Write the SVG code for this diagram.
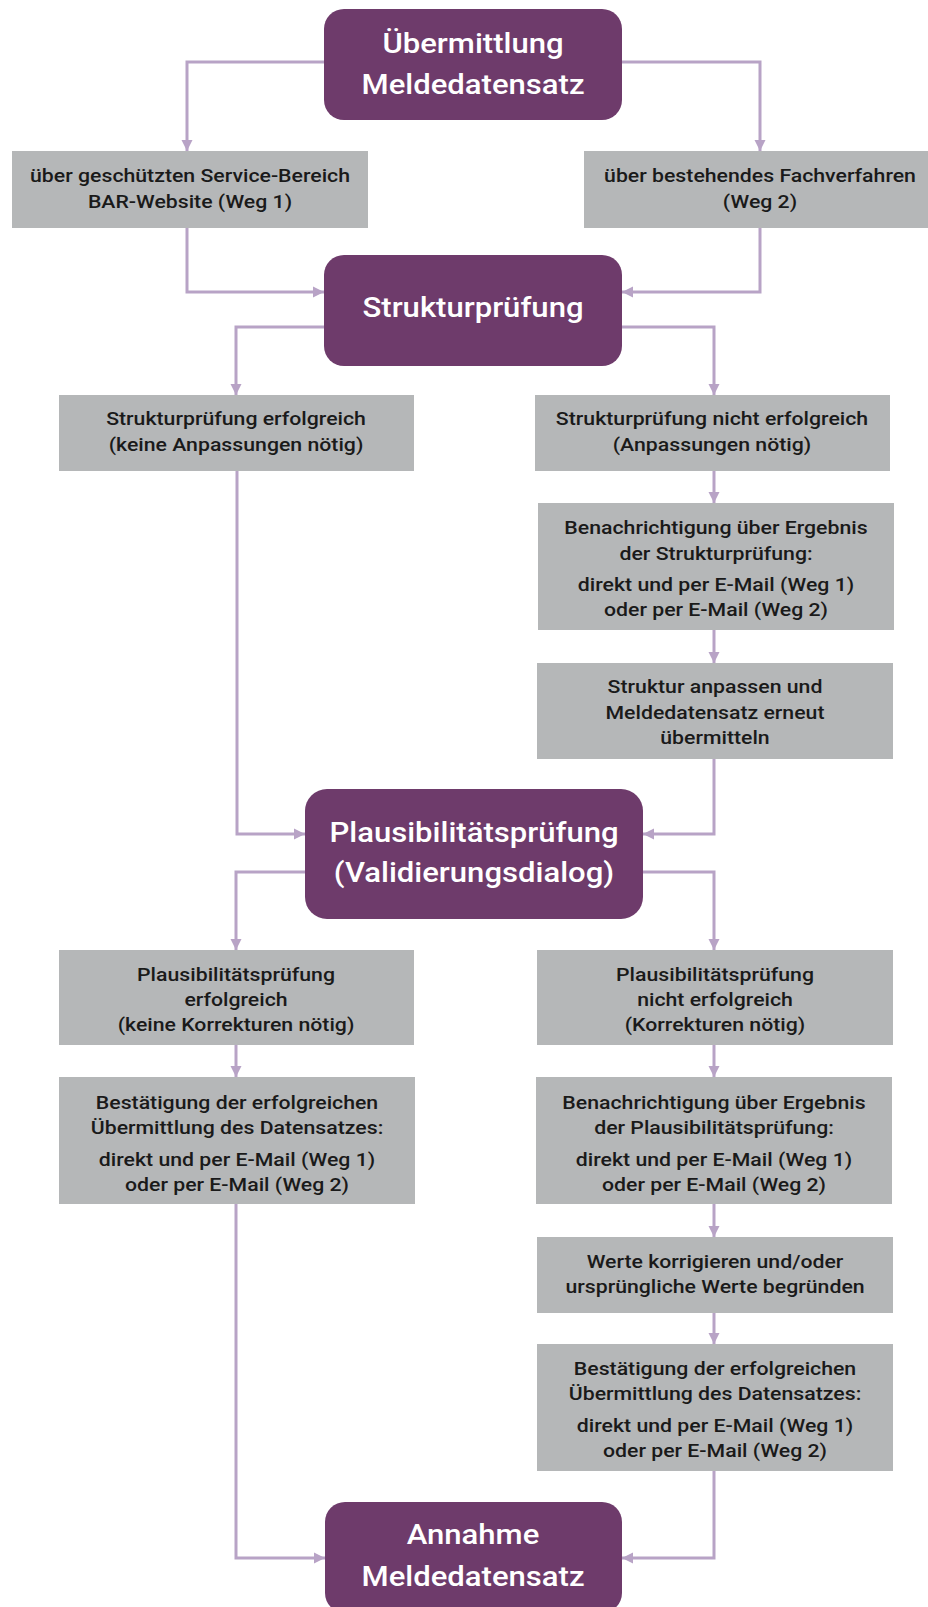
<svg xmlns="http://www.w3.org/2000/svg" width="928" height="1607" viewBox="0 0 928 1607">
<style>
.main{fill:#6e3b6b}
.box{fill:#b5b7b8}
.mt{font-family:Roboto,"Liberation Sans",sans-serif;font-weight:500;font-size:27.5px;fill:#ffffff;text-anchor:middle}
.bt{font-family:Roboto,"Liberation Sans",sans-serif;font-weight:500;font-size:18.5px;fill:#1a1a1a;text-anchor:middle}
.con{fill:none;stroke:#b8a3c6;stroke-width:3}
</style>
<defs>
<marker id="ah" markerUnits="userSpaceOnUse" markerWidth="12" markerHeight="12" refX="11" refY="6" orient="auto">
<path d="M0,0.5 L11,6 L0,11.5 z" fill="#b8a3c6"/>
</marker>
</defs>
<rect width="928" height="1607" fill="#ffffff"/>
<g id="connectors">
<path class="con" marker-end="url(#ah)" d="M324,62 H187 V151"/>
<path class="con" marker-end="url(#ah)" d="M622,62 H760 V151"/>
<path class="con" marker-end="url(#ah)" d="M187,228 V292 H324"/>
<path class="con" marker-end="url(#ah)" d="M760,228 V292 H622"/>
<path class="con" marker-end="url(#ah)" d="M324,327 H236 V395"/>
<path class="con" marker-end="url(#ah)" d="M622,327 H714 V395"/>
<path class="con" marker-end="url(#ah)" d="M714,471 V503"/>
<path class="con" marker-end="url(#ah)" d="M714,630 V663"/>
<path class="con" marker-end="url(#ah)" d="M237,471 V834 H305"/>
<path class="con" marker-end="url(#ah)" d="M714,759 V834 H643"/>
<path class="con" marker-end="url(#ah)" d="M305,872 H236 V950"/>
<path class="con" marker-end="url(#ah)" d="M643,872 H714 V950"/>
<path class="con" marker-end="url(#ah)" d="M236,1045 V1077"/>
<path class="con" marker-end="url(#ah)" d="M714,1045 V1077"/>
<path class="con" marker-end="url(#ah)" d="M714,1204 V1237"/>
<path class="con" marker-end="url(#ah)" d="M714,1313 V1344"/>
<path class="con" marker-end="url(#ah)" d="M236,1204 V1558 H325"/>
<path class="con" marker-end="url(#ah)" d="M714,1471 V1558 H622"/>
</g>
<g id="n_uebermittlung">
<rect class="main" x="324" y="9" width="298" height="111" rx="20"/>
<g transform="translate(473,0) scale(1.13,1)">
<text class="mt" x="0" y="53">Übermittlung</text>
<text class="mt" x="0" y="94">Meldedatensatz</text>
</g>
</g>
<g id="n_weg1">
<rect class="box" x="12" y="151" width="356" height="77"/>
<g transform="translate(190,0) scale(1.15,1)">
<text class="bt" x="0" y="182">über geschützten Service-Bereich</text>
<text class="bt" x="0" y="208">BAR-Website (Weg 1)</text>
</g>
</g>
<g id="n_weg2">
<rect class="box" x="584" y="151" width="344" height="77"/>
<g transform="translate(760,0) scale(1.15,1)">
<text class="bt" x="0" y="182">über bestehendes Fachverfahren</text>
<text class="bt" x="0" y="208">(Weg 2)</text>
</g>
</g>
<g id="n_struktur">
<rect class="main" x="324" y="255" width="298" height="111" rx="20"/>
<g transform="translate(473,0) scale(1.13,1)">
<text class="mt" x="0" y="317">Strukturprüfung</text>
</g>
</g>
<g id="n_struktur_ok">
<rect class="box" x="59" y="395" width="355" height="76"/>
<g transform="translate(236,0) scale(1.15,1)">
<text class="bt" x="0" y="425">Strukturprüfung erfolgreich</text>
<text class="bt" x="0" y="451">(keine Anpassungen nötig)</text>
</g>
</g>
<g id="n_struktur_nok">
<rect class="box" x="535" y="395" width="355" height="76"/>
<g transform="translate(712,0) scale(1.15,1)">
<text class="bt" x="0" y="425">Strukturprüfung nicht erfolgreich</text>
<text class="bt" x="0" y="451">(Anpassungen nötig)</text>
</g>
</g>
<g id="n_benach_struktur">
<rect class="box" x="538" y="503" width="356" height="127"/>
<g transform="translate(716,0) scale(1.15,1)">
<text class="bt" x="0" y="534">Benachrichtigung über Ergebnis</text>
<text class="bt" x="0" y="560">der Strukturprüfung:</text>
<text class="bt" x="0" y="591">direkt und per E-Mail (Weg 1)</text>
<text class="bt" x="0" y="616">oder per E-Mail (Weg 2)</text>
</g>
</g>
<g id="n_struktur_anpassen">
<rect class="box" x="537" y="663" width="356" height="96"/>
<g transform="translate(715,0) scale(1.15,1)">
<text class="bt" x="0" y="693">Struktur anpassen und</text>
<text class="bt" x="0" y="719">Meldedatensatz erneut</text>
<text class="bt" x="0" y="744">übermitteln</text>
</g>
</g>
<g id="n_plausi">
<rect class="main" x="305" y="789" width="338" height="130" rx="22"/>
<g transform="translate(474,0) scale(1.13,1)">
<text class="mt" x="0" y="842">Plausibilitätsprüfung</text>
<text class="mt" x="0" y="882">(Validierungsdialog)</text>
</g>
</g>
<g id="n_plausi_ok">
<rect class="box" x="59" y="950" width="355" height="95"/>
<g transform="translate(236,0) scale(1.15,1)">
<text class="bt" x="0" y="981">Plausibilitätsprüfung</text>
<text class="bt" x="0" y="1006">erfolgreich</text>
<text class="bt" x="0" y="1031">(keine Korrekturen nötig)</text>
</g>
</g>
<g id="n_plausi_nok">
<rect class="box" x="537" y="950" width="356" height="95"/>
<g transform="translate(715,0) scale(1.15,1)">
<text class="bt" x="0" y="981">Plausibilitätsprüfung</text>
<text class="bt" x="0" y="1006">nicht erfolgreich</text>
<text class="bt" x="0" y="1031">(Korrekturen nötig)</text>
</g>
</g>
<g id="n_bestaetigung_links">
<rect class="box" x="59" y="1077" width="356" height="127"/>
<g transform="translate(237,0) scale(1.15,1)">
<text class="bt" x="0" y="1109">Bestätigung der erfolgreichen</text>
<text class="bt" x="0" y="1134">Übermittlung des Datensatzes:</text>
<text class="bt" x="0" y="1166">direkt und per E-Mail (Weg 1)</text>
<text class="bt" x="0" y="1191">oder per E-Mail (Weg 2)</text>
</g>
</g>
<g id="n_benach_plausi">
<rect class="box" x="536" y="1077" width="356" height="127"/>
<g transform="translate(714,0) scale(1.15,1)">
<text class="bt" x="0" y="1109">Benachrichtigung über Ergebnis</text>
<text class="bt" x="0" y="1134">der Plausibilitätsprüfung:</text>
<text class="bt" x="0" y="1166">direkt und per E-Mail (Weg 1)</text>
<text class="bt" x="0" y="1191">oder per E-Mail (Weg 2)</text>
</g>
</g>
<g id="n_werte">
<rect class="box" x="537" y="1237" width="356" height="76"/>
<g transform="translate(715,0) scale(1.15,1)">
<text class="bt" x="0" y="1268">Werte korrigieren und/oder</text>
<text class="bt" x="0" y="1293">ursprüngliche Werte begründen</text>
</g>
</g>
<g id="n_bestaetigung_rechts">
<rect class="box" x="537" y="1344" width="356" height="127"/>
<g transform="translate(715,0) scale(1.15,1)">
<text class="bt" x="0" y="1375">Bestätigung der erfolgreichen</text>
<text class="bt" x="0" y="1400">Übermittlung des Datensatzes:</text>
<text class="bt" x="0" y="1432">direkt und per E-Mail (Weg 1)</text>
<text class="bt" x="0" y="1457">oder per E-Mail (Weg 2)</text>
</g>
</g>
<g id="n_annahme">
<rect class="main" x="325" y="1502" width="297" height="111" rx="20"/>
<g transform="translate(473,0) scale(1.13,1)">
<text class="mt" x="0" y="1544">Annahme</text>
<text class="mt" x="0" y="1586">Meldedatensatz</text>
</g>
</g>
</svg>
